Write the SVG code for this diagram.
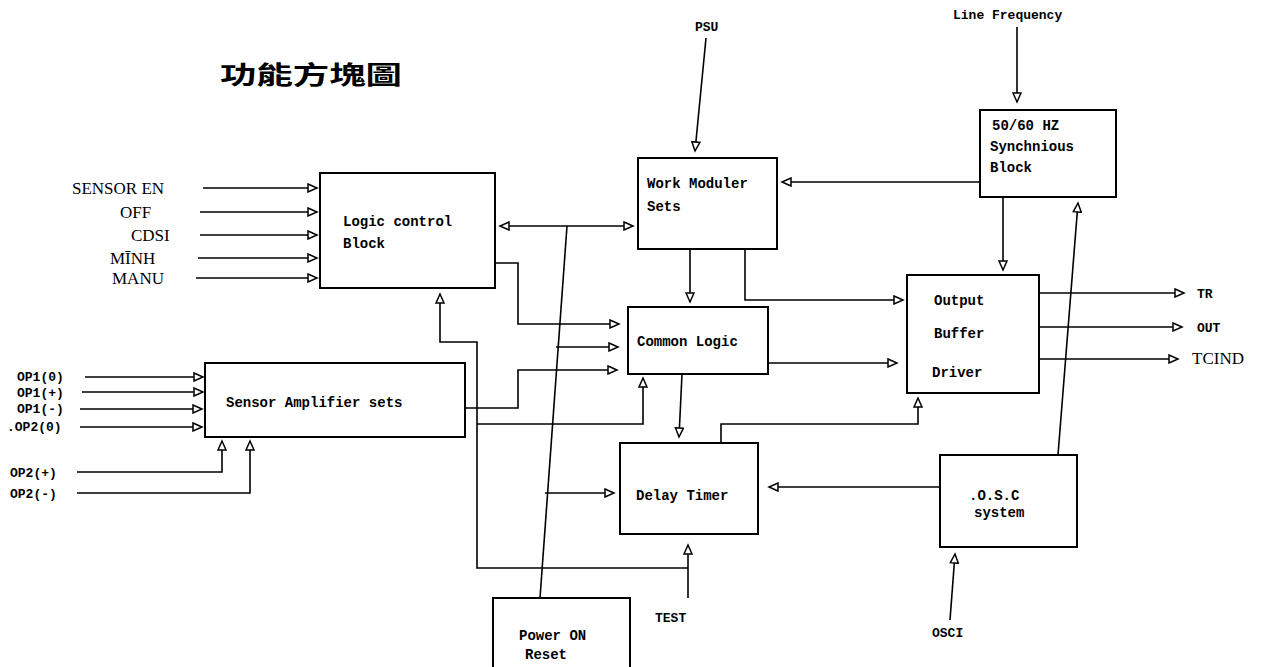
<svg xmlns="http://www.w3.org/2000/svg" width="1263" height="667" viewBox="0 0 1263 667">
<style>
.box{fill:#fff;stroke:#000;stroke-width:2}
.ln{fill:none;stroke:#000;stroke-width:1.6}
.ar{marker-end:url(#a)}
.t{font-family:"Liberation Mono",monospace;font-size:14px;font-weight:bold;fill:#000}
.s{font-family:"Liberation Mono",monospace;font-size:13px;font-weight:bold;fill:#000}
.sf{font-family:"Liberation Serif",serif;font-size:17px;fill:#000}
</style>
<defs>
<marker id="a" markerUnits="userSpaceOnUse" markerWidth="12" markerHeight="10" refX="10" refY="5" orient="auto-start-reverse">
<path d="M1,1 L10,5 L1,9 z" fill="#fff" stroke="#000" stroke-width="1.5"/>
</marker>
</defs>
<rect width="1263" height="667" fill="#fff"/>
<text x="220" y="84" font-family="'Noto Sans CJK TC','Noto Sans CJK SC',sans-serif" font-size="25" font-weight="bold" textLength="182" lengthAdjust="spacingAndGlyphs">功能方塊圖</text>

<g id="connectors">
<path class="ln ar" d="M203,188 H317"/>
<path class="ln ar" d="M200,212 H317"/>
<path class="ln ar" d="M200,235 H317"/>
<path class="ln ar" d="M198,258 H317"/>
<path class="ln ar" d="M196,278 H317"/>
<path class="ln ar" d="M85,377 H203"/>
<path class="ln ar" d="M82,392 H203"/>
<path class="ln ar" d="M80,409 H202"/>
<path class="ln ar" d="M80,427 H202"/>
<path class="ln ar" d="M77,472 H222 V441"/>
<path class="ln ar" d="M77,493 H250 V441"/>
<path class="ln ar" d="M500,226 H633" marker-start="url(#a)"/>
<path class="ln" d="M567,226 L540,598"/>
<path class="ln ar" d="M556,347 H618"/>
<path class="ln ar" d="M545,493 H614"/>
<path class="ln ar" d="M495,263 H518 V324 H619"/>
<path class="ln ar" d="M465,408 H518 V370 H617"/>
<path class="ln ar" d="M688,598 V545"/>
<path class="ln ar" d="M688,568 H477 V342 H440 V294"/>
<path class="ln ar" d="M477,424 H643 V378"/>
<path class="ln ar" d="M706,38 L695,151"/>
<path class="ln ar" d="M1017,27 V102"/>
<path class="ln ar" d="M980,182 H782"/>
<path class="ln ar" d="M690,249 V302"/>
<path class="ln ar" d="M745,249 V300 H903"/>
<path class="ln ar" d="M1003,197 V270"/>
<path class="ln ar" d="M768,363 H897"/>
<path class="ln ar" d="M682,374 L679,437"/>
<path class="ln ar" d="M721,443 V424 H918 V398"/>
<path class="ln ar" d="M940,487 H769"/>
<path class="ln ar" d="M1058,455 L1078,203"/>
<path class="ln ar" d="M950,620 L955,554"/>
<path class="ln ar" d="M1039,293 H1184"/>
<path class="ln ar" d="M1039,327 H1182"/>
<path class="ln ar" d="M1039,359 H1178"/>
</g>

<g id="logic-control"><rect class="box" x="320" y="173" width="175" height="115"/><text class="t" x="343" y="226">Logic control</text><text class="t" x="343" y="248">Block</text></g>
<g id="sensor-amp"><rect class="box" x="205" y="363" width="260" height="74"/><text class="t" x="226" y="407">Sensor Amplifier sets</text></g>
<g id="work-moduler"><rect class="box" x="638" y="158" width="139" height="91"/><text class="t" x="647" y="188">Work Moduler</text><text class="t" x="647" y="211">Sets</text></g>
<g id="synch"><rect class="box" x="980" y="110" width="136" height="87"/><text class="t" x="992" y="130">50/60 HZ</text><text class="t" x="990" y="151">Synchnious</text><text class="t" x="990" y="172">Block</text></g>
<g id="common-logic"><rect class="box" x="628" y="307" width="140" height="67"/><text class="t" x="637" y="346">Common Logic</text></g>
<g id="output-buffer"><rect class="box" x="907" y="275" width="132" height="118"/><text class="t" x="934" y="305">Output</text><text class="t" x="934" y="338">Buffer</text><text class="t" x="932" y="377">Driver</text></g>
<g id="delay-timer"><rect class="box" x="620" y="443" width="138" height="91"/><text class="t" x="636" y="500" font-size="15">Delay Timer</text></g>
<g id="osc"><rect class="box" x="940" y="455" width="137" height="92"/><text class="t" x="969" y="500">.O.S.C</text><text class="t" x="974" y="517">system</text></g>
<g id="power-on-reset"><rect class="box" x="493" y="598" width="137" height="85"/><text class="t" x="519" y="640">Power ON</text><text class="t" x="525" y="659">Reset</text></g>

<g id="labels">
<text class="sf" x="72" y="194">SENSOR EN</text>
<text class="sf" x="120" y="218">OFF</text>
<text class="sf" x="131" y="241">CDSI</text>
<text class="sf" x="110" y="264">MĪNH</text>
<text class="sf" x="112" y="284">MANU</text>
<text class="s" x="17" y="381">OP1(0)</text>
<text class="s" x="17" y="397">OP1(+)</text>
<text class="s" x="17" y="413">OP1(-)</text>
<text class="s" x="7" y="431">.OP2(0)</text>
<text class="s" x="10" y="477">OP2(+)</text>
<text class="s" x="10" y="498">OP2(-)</text>
<text class="s" x="695" y="31">PSU</text>
<text class="s" x="953" y="19">Line Frequency</text>
<text class="s" x="1197" y="298">TR</text>
<text class="s" x="1197" y="332">OUT</text>
<text class="sf" x="1192" y="364" font-family="'Liberation Sans',sans-serif" font-size="15">TCIND</text>
<text class="s" x="655" y="622">TEST</text>
<text class="s" x="932" y="637">OSCI</text>
</g>
</svg>
